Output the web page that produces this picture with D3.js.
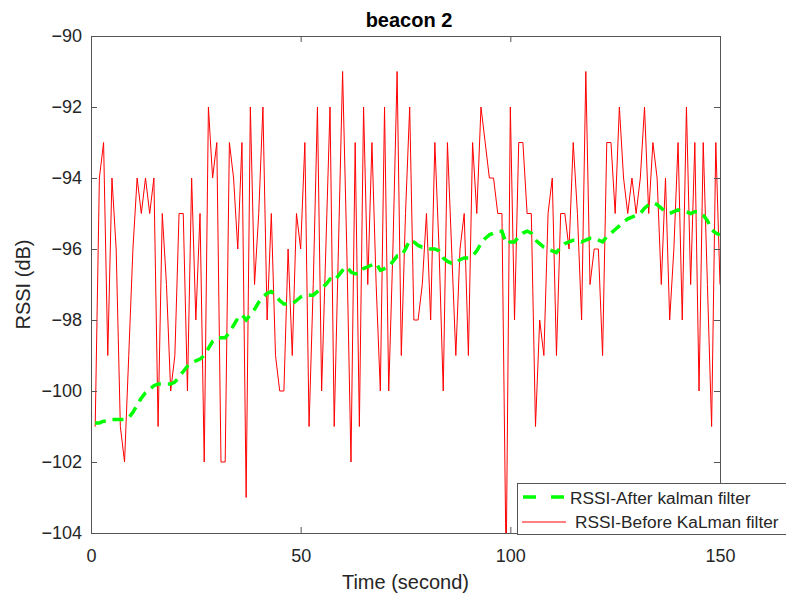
<!DOCTYPE html>
<html>
<head>
<meta charset="utf-8">
<script src="https://cdnjs.cloudflare.com/ajax/libs/d3/7.8.5/d3.min.js"></script>
<style>
  html, body { margin: 0; padding: 0; background: #fff; }
  svg { display: block; font-family: "Liberation Sans", Arial, Helvetica, sans-serif; }
</style>
</head>
<body>
<svg id="chart" width="786" height="597"></svg>
<script>
// Time axis, one sample per second
const seconds = d3.range(1, 151);

// Raw RSSI readings (dB) before filtering
const rssiRaw = [
  -101, -94, -93, -99, -94, -96, -101, -102, -99, -96,
  -94, -95, -94, -95, -94, -101, -95, -97, -100, -99,
  -95, -95, -100, -94, -98, -95, -102, -92, -94, -93,
  -102, -102, -93, -94, -96, -93, -103, -92, -97, -95,
  -92, -98, -95, -99, -100, -100, -96, -99, -95, -96,
  -93, -101, -97, -92, -100, -96, -92, -101, -96, -91,
  -96, -102, -93, -101, -92, -97, -93, -97, -100, -92,
  -100, -96, -91, -99, -95, -92, -98, -98, -97, -95,
  -98, -93, -96, -100, -93, -96, -99, -96, -95, -99,
  -93, -95, -92, -93, -94, -94, -95, -95, -105, -92,
  -98, -93, -93, -95, -95, -101, -98, -99, -95, -94,
  -99, -95, -95, -96, -93, -95, -98, -91, -97, -96,
  -96, -99, -93, -93, -95, -92, -94, -95, -94, -95,
  -94, -92, -95, -93, -94, -97, -94, -98, -96, -93,
  -98, -92, -97, -93, -100, -93, -97, -101, -93, -97
];

// Kalman-filtered RSSI estimate (dB)
const rssiKalman = [
  -100.9, -100.9, -100.85, -100.85, -100.8, -100.8, -100.8, -100.8, -100.75, -100.6,
  -100.4, -100.2, -100.05, -99.95, -99.85, -99.8, -99.8, -99.8, -99.8, -99.75,
  -99.6, -99.45, -99.3, -99.2, -99.15, -99.1, -99.0, -98.8, -98.6, -98.5,
  -98.5, -98.5, -98.35, -98.15, -97.95, -97.85, -98.0, -97.85, -97.7, -97.5,
  -97.35, -97.25, -97.2, -97.3, -97.45, -97.55, -97.55, -97.55, -97.45, -97.35,
  -97.3, -97.3, -97.3, -97.2, -97.1, -97.0, -96.85, -96.9, -96.75, -96.6,
  -96.5, -96.65, -96.7, -96.7, -96.55, -96.5, -96.45, -96.4, -96.6, -96.55,
  -96.5, -96.35, -96.2, -96.2, -96.0, -95.75, -95.8, -95.9, -95.95, -95.95,
  -96.0, -96.0, -96.05, -96.25, -96.35, -96.4, -96.4, -96.3, -96.25, -96.25,
  -96.2, -96.05, -95.85, -95.7, -95.6, -95.55, -95.5, -95.5, -95.85, -95.8,
  -95.8, -95.65, -95.55, -95.5, -95.55, -95.75, -95.85, -95.95, -96.0, -96.05,
  -96.1, -95.95, -95.85, -95.8, -95.75, -95.75, -95.8, -95.75, -95.7, -95.7,
  -95.75, -95.8, -95.65, -95.55, -95.45, -95.35, -95.25, -95.15, -95.1, -95.05,
  -95.0, -94.85, -94.75, -94.7, -94.75, -94.85, -94.95, -95.0, -94.95, -94.9,
  -94.95, -94.95, -95.0, -94.95, -94.95, -95.05, -95.2, -95.45, -95.55, -95.6
];

const xTicks = [0, 50, 100, 150];
const yTicks = [-90, -92, -94, -96, -98, -100, -102, -104];

const titleText = "beacon 2";
const xLabel = "Time (second)";
const yLabel = "RSSI (dB)";
const legendLabels = ["RSSI-After kalman filter", "RSSI-Before KaLman filter"];

// Layout
const plot = { left: 91, top: 36, right: 720, bottom: 533 };
const axisColor = "#555555";
const textColor = "#262626";

const svg = d3.select("#chart");

const x = d3.scaleLinear().domain([0, 150]).range([plot.left, plot.right]);
const y = d3.scaleLinear().domain([-104, -90]).range([plot.bottom, plot.top]);

svg.append("defs").append("clipPath").attr("id", "plotClip")
  .append("rect")
  .attr("x", plot.left).attr("y", plot.top)
  .attr("width", plot.right - plot.left).attr("height", plot.bottom - plot.top);

const rawData = seconds.map((t, i) => ({ t, v: rssiRaw[i] }));
const kalData = seconds.map((t, i) => ({ t, v: rssiKalman[i] }));

const line = d3.line().x(d => x(d.t)).y(d => y(d.v));

const marks = svg.append("g").attr("clip-path", "url(#plotClip)");

marks.append("path")
  .datum(rawData)
  .attr("d", line)
  .attr("fill", "none")
  .attr("stroke", "#ff0000")
  .attr("stroke-width", 1)
  .attr("stroke-linejoin", "miter");

marks.append("path")
  .datum(kalData)
  .attr("d", line)
  .attr("fill", "none")
  .attr("stroke", "#00ff00")
  .attr("stroke-width", 3.5)
  .attr("stroke-dasharray", "11,7");

// Axes box with inward ticks on all four sides
function styleAxis(g) {
  g.select(".domain").remove();
  g.selectAll(".tick line").attr("stroke", axisColor);
  g.selectAll(".tick text").attr("fill", textColor).style("font-size", "18px");
}

svg.append("g")
  .attr("transform", `translate(0,${plot.bottom})`)
  .call(d3.axisBottom(x).tickValues(xTicks).tickSize(-6).tickPadding(16).tickFormat(d3.format("d")))
  .call(styleAxis);

svg.append("g")
  .attr("transform", `translate(0,${plot.top})`)
  .call(d3.axisTop(x).tickValues(xTicks).tickSize(-6).tickFormat(""))
  .call(styleAxis);

svg.append("g")
  .attr("transform", `translate(${plot.left},0)`)
  .call(d3.axisLeft(y).tickValues(yTicks).tickSize(-6).tickPadding(9).tickFormat(d3.format("d")))
  .call(styleAxis);

svg.append("g")
  .attr("transform", `translate(${plot.right},0)`)
  .call(d3.axisRight(y).tickValues(yTicks).tickSize(-6).tickFormat(""))
  .call(styleAxis);

svg.append("rect")
  .attr("x", plot.left + 0.5).attr("y", plot.top + 0.5)
  .attr("width", plot.right - plot.left).attr("height", plot.bottom - plot.top)
  .attr("fill", "none").attr("stroke", axisColor).attr("stroke-width", 1);

// Title and axis labels
svg.append("text")
  .attr("x", 409).attr("y", 27)
  .attr("text-anchor", "middle")
  .attr("fill", "#000")
  .style("font-size", "20px").style("font-weight", "bold")
  .text(titleText);

svg.append("text")
  .attr("x", (plot.left + plot.right) / 2).attr("y", 589)
  .attr("text-anchor", "middle")
  .attr("fill", textColor)
  .style("font-size", "20px")
  .text(xLabel);

svg.append("text")
  .attr("transform", `translate(30,${(plot.top + plot.bottom) / 2}) rotate(-90)`)
  .attr("text-anchor", "middle")
  .attr("fill", textColor)
  .style("font-size", "20px")
  .text(yLabel);

// Legend
const legend = svg.append("g");
legend.append("rect")
  .attr("x", 517.5).attr("y", 483.5)
  .attr("width", 280).attr("height", 51)
  .attr("fill", "#fff").attr("stroke", axisColor).attr("stroke-width", 1);

legend.append("line")
  .attr("x1", 523).attr("x2", 565).attr("y1", 497).attr("y2", 497)
  .attr("stroke", "#00ff00").attr("stroke-width", 3.5).attr("stroke-dasharray", "13,15");
legend.append("line")
  .attr("x1", 522).attr("x2", 566).attr("y1", 522).attr("y2", 522)
  .attr("stroke", "#ff0000").attr("stroke-width", 1);

legend.append("text")
  .attr("x", 570).attr("y", 504)
  .attr("fill", textColor).style("font-size", "17.3px")
  .text(legendLabels[0]);
legend.append("text")
  .attr("x", 575).attr("y", 528)
  .attr("fill", textColor).style("font-size", "17.3px")
  .text(legendLabels[1]);
</script>
</body>
</html>
